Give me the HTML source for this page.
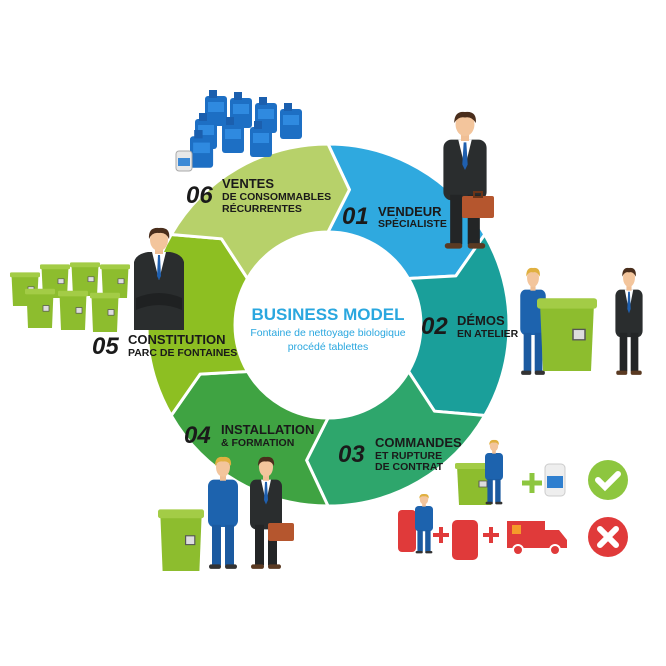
<!DOCTYPE html>
<html><head><meta charset="utf-8"><style>
html,body{margin:0;padding:0;background:#fff}
svg{display:block}
text{font-family:"Liberation Sans",sans-serif}
.n{font-weight:bold;font-style:italic;font-size:24px;fill:#1a1a1a}
.t{font-weight:bold;font-size:13px;fill:#1a1a1a}
.s{font-weight:bold;font-size:10.5px;fill:#1a1a1a}
</style></head><body>
<svg width="666" height="666" viewBox="0 0 666 666">
<defs>
<path id="seg" d="M328 144 A181 181 0 0 1 484.8 234.5 L455.9 275.9 L408.5 278.5 A93 93 0 0 0 328 232 L349.4 189.7 Z"/>
<g id="biz">
 <rect x="4" y="20" width="32" height="44" rx="6" fill="#2a2d2e"/>
 <polygon points="15,20 25,20 20,40" fill="#fff"/>
 <polygon points="19,22 21,22 22,38 20,42 18,38" fill="#1f5fae"/>
 <rect x="9" y="60" width="9" height="36" fill="#232526"/>
 <rect x="22" y="60" width="9" height="36" fill="#232526"/>
 <rect x="5" y="95" width="13" height="4" rx="2" fill="#5a3a22"/>
 <rect x="22" y="95" width="13" height="4" rx="2" fill="#5a3a22"/>
 <rect x="17" y="15" width="6" height="6" fill="#f0bf95"/>
 <ellipse cx="20" cy="9" rx="7" ry="8.5" fill="#f3c59c"/>
 <path d="M12 8 Q12 -1 20 0 Q29 -1 28 8 Q25 3 20 4 Q15 3 12 8Z" fill="#4a2e1c"/>
</g>
<g id="wrk">
 <rect x="5" y="20" width="30" height="42" rx="6" fill="#1d63ae"/>
 <rect x="9" y="60" width="9" height="36" fill="#1b5aa0"/>
 <rect x="22" y="60" width="9" height="36" fill="#1b5aa0"/>
 <rect x="6" y="95" width="12" height="4" rx="2" fill="#333"/>
 <rect x="22" y="95" width="12" height="4" rx="2" fill="#333"/>
 <rect x="17" y="15" width="6" height="6" fill="#f0bf95"/>
 <ellipse cx="20" cy="9" rx="7" ry="8.5" fill="#f3c59c"/>
 <path d="M12 8 Q12 -1 20 0 Q29 -1 28 8 Q25 3 20 4 Q15 3 12 8Z" fill="#e0b040"/>
</g>
<g id="fnt">
 <path d="M2 8 L38 8 L36 60 L4 60 Z" fill="#8dbd2e"/>
 <rect x="0" y="4" width="40" height="8" rx="2" fill="#a3cc46"/>
 <rect x="24" y="28" width="8" height="8" fill="#ddd" stroke="#555" stroke-width="1"/>
</g>
<g id="btl">
 <rect x="0" y="6" width="22" height="30" rx="3" fill="#1d6fc4"/>
 <rect x="4" y="0" width="8" height="8" fill="#1b5fae"/>
 <rect x="3" y="12" width="16" height="10" fill="#2f8ae0"/>
</g>
</defs>

<g stroke="#fff" stroke-width="3" stroke-linejoin="round">
<use href="#seg" fill="#2fa9df"/>
<use href="#seg" fill="#1a9f9a" transform="rotate(60 328 325)"/>
<use href="#seg" fill="#2ea66c" transform="rotate(120 328 325)"/>
<use href="#seg" fill="#3fa342" transform="rotate(180 328 325)"/>
<use href="#seg" fill="#8dbf22" transform="rotate(240 328 325)"/>
<use href="#seg" fill="#b7d16a" transform="rotate(300 328 325)"/>
</g>

<text x="328" y="320" text-anchor="middle" font-weight="bold" font-size="17" fill="#2aa7df">BUSINESS MODEL</text>
<text x="328" y="336" text-anchor="middle" font-size="10.5" fill="#2aa7df">Fontaine de nettoyage biologique</text>
<text x="328" y="350" text-anchor="middle" font-size="10.5" fill="#2aa7df">procédé tablettes</text>

<text class="n" x="342" y="224">01</text><text class="t" x="378" y="216">VENDEUR</text><text class="s" x="378" y="227">SPÉCIALISTE</text>
<text class="n" x="421" y="334">02</text><text class="t" x="457" y="325">DÉMOS</text><text class="s" x="457" y="337">EN ATELIER</text>
<text class="n" x="338" y="462">03</text><text class="t" x="375" y="447">COMMANDES</text><text class="s" x="375" y="459">ET RUPTURE</text><text class="s" x="375" y="470">DE CONTRAT</text>
<text class="n" x="184" y="443">04</text><text class="t" x="221" y="434">INSTALLATION</text><text class="s" x="221" y="446">&amp; FORMATION</text>
<text class="n" x="92" y="354">05</text><text class="t" x="128" y="344">CONSTITUTION</text><text class="s" x="128" y="356">PARC DE FONTAINES</text>
<text class="n" x="186" y="203">06</text><text class="t" x="222" y="188">VENTES</text><text class="s" x="222" y="200">DE CONSOMMABLES</text><text class="s" x="222" y="212">RÉCURRENTES</text>

<g>
<use href="#btl" transform="translate(205,90)"/><use href="#btl" transform="translate(230,92)"/><use href="#btl" transform="translate(255,97)"/><use href="#btl" transform="translate(280,103)"/>
<use href="#btl" transform="translate(195,113)"/><use href="#btl" transform="translate(222,117)"/><use href="#btl" transform="translate(250,121)"/>
<use href="#btl" transform="translate(190,130) scale(1.05)"/>
<rect x="176" y="151" width="16" height="20" rx="3" fill="#e8e8e8" stroke="#aaa"/><rect x="178" y="158" width="12" height="8" fill="#3d8ad6"/>
</g>

<use href="#biz" transform="translate(438,112) scale(1.35 1.38)"/>
<rect x="462" y="196" width="32" height="22" rx="2" fill="#b5562e"/><rect x="474" y="192" width="8" height="5" fill="none" stroke="#6b3418" stroke-width="2"/>

<use href="#wrk" transform="translate(516,268) scale(0.85 1.08)"/>
<use href="#fnt" transform="translate(537,293) scale(1.5 1.3)"/>
<use href="#biz" transform="translate(612,268) scale(0.85 1.08)"/>

<g>
<use href="#fnt" transform="translate(40,262) scale(0.75 0.6)"/><use href="#fnt" transform="translate(70,260) scale(0.75 0.6)"/><use href="#fnt" transform="translate(100,262) scale(0.75 0.6)"/>
<use href="#fnt" transform="translate(10,270) scale(0.75 0.6)"/>
<use href="#fnt" transform="translate(25,286) scale(0.75 0.7)"/><use href="#fnt" transform="translate(58,288) scale(0.75 0.7)"/><use href="#fnt" transform="translate(90,290) scale(0.75 0.7)"/>
</g>
<!-- 05 businessman upper body, arms crossed -->
<path d="M134 262 Q136 254 148 252 L170 252 Q182 254 184 262 L184 330 L134 330 Z" fill="#2a2d2e"/>
<polygon points="152,252 166,252 159,280" fill="#fff"/>
<polygon points="158,255 160,255 161,276 159,280 157,276" fill="#1f5fae"/>
<path d="M136 298 Q159 288 182 298 L182 310 Q159 300 136 310 Z" fill="#1f2122"/>
<rect x="155" y="247" width="8" height="7" fill="#f0bf95"/>
<ellipse cx="159" cy="240" rx="9" ry="11" fill="#f3c59c"/>
<path d="M149 239 Q148 227 159 228 Q171 227 169 239 Q166 232 159 233 Q152 232 149 239Z" fill="#4a2e1c"/>

<use href="#fnt" transform="translate(158,505) scale(1.15 1.1)"/>
<use href="#wrk" transform="translate(203,457) scale(1.0 1.13)"/>
<use href="#biz" transform="translate(246,457) scale(1.0 1.13)"/>
<rect x="268" y="523" width="26" height="18" rx="2" fill="#b5562e"/>

<use href="#fnt" transform="translate(455,460) scale(1.0 0.75)"/>
<use href="#wrk" transform="translate(482,440) scale(0.6 0.65)"/>
<path d="M522 483 h20 M532 473 v20" stroke="#8dc63f" stroke-width="5"/>
<rect x="545" y="464" width="20" height="32" rx="4" fill="#eee" stroke="#ccc"/><rect x="547" y="476" width="16" height="12" fill="#2f7fcf"/>
<circle cx="608" cy="480" r="20" fill="#8dc63f"/><path d="M598 480 l7 7 l13 -13" stroke="#fff" stroke-width="6" fill="none" stroke-linecap="round"/>
<rect x="398" y="510" width="18" height="42" rx="4" fill="#e03a3a"/>
<use href="#wrk" transform="translate(412,494) scale(0.6 0.6)"/>
<path d="M433 535 h16 M441 527 v16" stroke="#e03a3a" stroke-width="4"/>
<rect x="452" y="520" width="26" height="40" rx="5" fill="#e03a3a"/>
<path d="M483 535 h16 M491 527 v16" stroke="#e03a3a" stroke-width="4"/>
<rect x="507" y="521" width="38" height="27" fill="#e03a3a"/><path d="M545 530 h14 l8 10 v8 h-22z" fill="#e03a3a"/><rect x="512" y="525" width="9" height="9" fill="#f59a2a"/>
<circle cx="518" cy="550" r="5" fill="#e03a3a" stroke="#fff" stroke-width="2"/><circle cx="555" cy="550" r="5" fill="#e03a3a" stroke="#fff" stroke-width="2"/>
<circle cx="608" cy="537" r="20" fill="#e03a3a"/><path d="M600 529 l16 16 M616 529 l-16 16" stroke="#fff" stroke-width="6" stroke-linecap="round"/>
</svg>
</body></html>
